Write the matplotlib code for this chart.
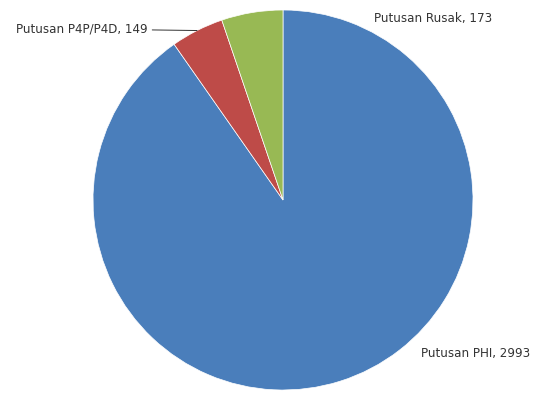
import numpy as np
import matplotlib.pyplot as plt

labels = ["Putusan PHI", "Putusan P4P/P4D", "Putusan Rusak"]
values = [2993, 149, 173]
colors = ["#4A7EBB", "#BE4B48", "#98B954"]

fig = plt.figure(figsize=(5.33, 3.95), dpi=100)
ax = fig.add_axes([93 / 533, 5 / 395, 380 / 533, 380 / 395])

wedges, _ = ax.pie(values, colors=colors, startangle=90, counterclock=False,
                   radius=1.0, wedgeprops=dict(linewidth=0.5, edgecolor="white"))
ax.set_xlim(-1, 1)
ax.set_ylim(-1, 1)
ax.set_aspect("equal")
ax.axis("off")

txt = dict(fontsize=8.6, color="#333333", family="DejaVu Sans")

# PHI label, lower right
ax.text(0.725, -0.81, "%s, %d" % (labels[0], values[0]), ha="left", va="center",
        clip_on=False, **txt)

# P4P/P4D label with leader line to wedge middle
w = wedges[1]
ang = np.deg2rad((w.theta1 + w.theta2) / 2)
ex, ey = np.cos(ang), np.sin(ang)
ax.annotate("%s, %d" % (labels[1], values[1]), xy=(ex, ey), xytext=(-0.71, 0.9),
            ha="right", va="center", annotation_clip=False,
            arrowprops=dict(arrowstyle="-", color="#333333", lw=0.7,
                            shrinkA=1, shrinkB=0), **txt)

# Rusak label, upper right
ax.text(0.48, 0.955, "%s, %d" % (labels[2], values[2]), ha="left", va="center", **txt)

fig.savefig("out.png", dpi=100, facecolor="white")
